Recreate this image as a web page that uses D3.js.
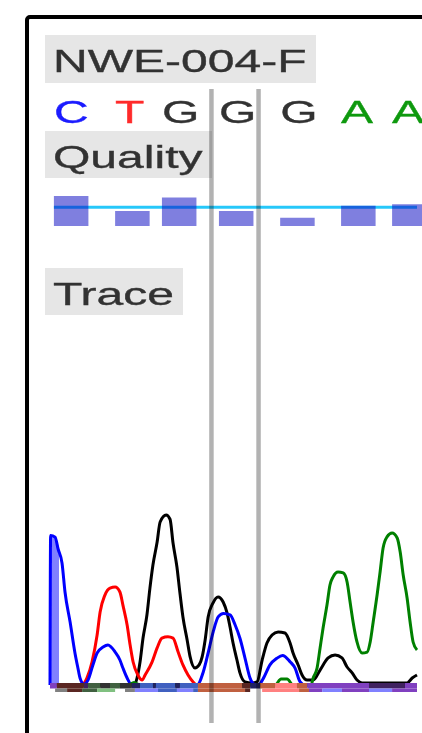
<!DOCTYPE html>
<html>
<head>
<meta charset="utf-8">
<script src="https://cdn.jsdelivr.net/npm/d3@7"></script>
<style>
    body { margin: 0; background: #fff; }
    svg { display: block; }
</style>
</head>
<body>
<svg></svg>
<script>
"use strict"
// campione e basi chiamate
const nomeCampione = "NWE-004-F";
const etichette = ["Quality", "Trace"];
const basi = ["C", "T", "G", "G", "G", "A", "A"];
const inizioBasi = [1.3, 21.7, 37.3, 56.3, 76.7, 97, 114]; // in scansioni
const qualita = [40, 20, 38, 20, 11, 27, 29];
const soglia = 25;
const selezione = [53.8, 69.5]; // base selezionata (scansioni)
const inizioTraccia = [0, 3]; // tratto iniziale della traccia C, prima del primo picco chiamato

// tracce: [scansione, intensità]
const tracciaG = [[0, 0], [28, 0], [29, 41], [30, 135], [31, 276], [32.3, 412], [33.3, 570], [34.3, 706], [35.7, 841], [36.7, 959], [38.7, 1000], [40, 975], [41, 835], [42.3, 694], [43.3, 541], [44.3, 400], [45.7, 265], [46.7, 165], [48.3, 100], [49.7, 118], [50.7, 165], [51.7, 265], [52.7, 400], [54.3, 482], [56, 518], [57.7, 488], [59, 424], [60, 341], [61, 247], [62.3, 147], [63.3, 71], [65, 18], [67.3, 12], [69, 18], [70.7, 147], [72.3, 247], [74, 294], [76, 312], [78.3, 306], [80, 247], [81, 188], [82.7, 118], [84, 59], [85.7, 29], [87.7, 29], [90, 88], [92.7, 159], [95, 176], [97.3, 159], [99, 106], [100.7, 71], [102.3, 29], [104, 12], [119, 12], [120.7, 41], [122.3, 59]];
const tracciaT = [[0, 0], [10.5, 0], [12.3, 41], [14, 135], [15.7, 294], [16.7, 429], [18.3, 529], [20, 570], [21.7, 576], [23.3, 547], [24.3, 470], [25.7, 353], [26.7, 235], [27.7, 135], [29.3, 59], [30.7, 29], [31.7, 59], [34, 135], [35.7, 218], [37.3, 276], [39.3, 284], [41, 276], [42.7, 194], [44.3, 118], [46, 59], [47.7, 18], [49, 0], [122.3, 0]];
const tracciaC = [[0, 0], [0.2, 880], [1.7, 870], [2.7, 800], [4, 718], [5, 547], [6.7, 370], [8.3, 190], [9.3, 100], [10, 41], [11.3, 5], [12.7, 30], [14.3, 118], [15.7, 188], [17.7, 223], [19.3, 235], [21.7, 194], [23.3, 147], [24.3, 100], [25.7, 41], [27, 5], [30, 0], [49, 0], [51.1, 78], [52.8, 196], [54.4, 314], [56.1, 402], [57.8, 421], [60, 412], [61.7, 353], [63.3, 275], [65, 157], [66.7, 39], [68, 5], [69.5, 0], [71.1, 39], [73.3, 118], [75.6, 157], [77.5, 174], [80, 137], [81.7, 98], [83.3, 20], [85, 0], [122.3, 0]];
const tracciaA = [[0, 0], [26, 0], [28, 15], [30, 0], [75, 0], [77, 35], [79, 35], [81, 0], [87, 0], [87.7, 41], [89, 100], [90, 218], [91, 335], [92.3, 470], [93.3, 588], [94.3, 635], [96, 665], [97.7, 659], [99, 606], [100, 488], [101, 371], [102.3, 253], [104, 188], [105.7, 194], [106.7, 253], [107.7, 371], [109, 529], [110, 665], [111, 806], [112.3, 871], [114, 894], [115.7, 865], [116.7, 782], [117.7, 647], [119, 512], [120, 371], [121, 253], [122.3, 206]];

// fascia di base: canali sovrapposti [inizio, fine, canali]
const fasciaSuperiore = [[0, 2.3, "CT"], [2.3, 11.3, "AGT"], [11.3, 12.7, "CTG"], [12.7, 16.7, "AG"], [16.7, 20, "G"], [20, 23.3, "AG"], [23.3, 27.3, "G"], [27.3, 30, "CG"], [30, 34.3, "C"], [34.3, 35.3, "CG"], [35.3, 41.7, "C"], [41.7, 43.3, "CG"], [43.3, 49.3, "C"], [49.3, 64, "TG"], [64, 66.7, "AGT"], [66.7, 70, "CG"], [70, 75, "TG"], [75, 82.3, "T"], [82.3, 85.7, "TG"], [85.7, 106.3, "CT"], [106.3, 118.3, "CTG"], [118.3, 122.3, "CT"]];
const fasciaInferiore = [[1.7, 5.7, "G"], [5.7, 10.7, "AGT"], [10.7, 15.7, "AG"], [15.7, 21.7, "A"], [25, 28.3, "G"], [28.3, 36, "C"], [36, 42.3, "CG"], [42.3, 47.7, "C"], [47.7, 49.3, "CG"], [49.3, 65, "TG"], [65, 66.7, "AGT"], [70.7, 83, "T"], [83, 86.3, "TG"], [86.3, 90.7, "CT"], [90.7, 97.3, "C"], [97.3, 106.3, "CT"], [106.3, 114, "C"], [114, 122.3, "CT"]];

const coloriCanali = { A: "#008000", C: "#0000ff", G: "#000000", T: "#ff0000" };
const coloriLettere = { A: "#119911", C: "#1a1aff", G: "#333333", T: "#ff2a2a" };
const tinteSuperiori = { C: "#4060c0", CG: "#202060", CT: "#8040c0", CTG: "#402060", TG: "#c06040", T: "#ff8080", G: "#303030", AG: "#406040", AGT: "#5a2820" };
const tinteInferiori = { G: "#808080", AGT: "#5a2820", AG: "#406040", A: "#80c080", C: "#8080ff", CG: "#4060c0", TG: "#c06040", T: "#ff8080", CT: "#8040c0" };

const grafico = { w: 422, h: 733 };
const font = "'Liberation Sans', Arial, Helvetica, sans-serif";
const allungamento = 1.55; // testo stirato in orizzontale

const radice = d3.select("svg")
    .attr("width", grafico.w)
    .attr("height", grafico.h);

// leggera sfocatura, come nell'immagine ingrandita
radice.append("defs")
    .append("filter")
    .attr("id", "sfoca")
    .attr("x", "-5%").attr("y", "-5%")
    .attr("width", "110%").attr("height", "110%")
    .append("feGaussianBlur")
    .attr("stdDeviation", 0.55);

const svg = radice.append("g").attr("filter", "url(#sfoca)");

const scalaX = d3.scaleLinear()
    .domain([0, 122.3])
    .range([50, 417]);
const scalaQ = d3.scaleLinear()
    .domain([0, 40])
    .range([226, 196]);
const scalaY = d3.scaleLinear()
    .domain([0, 1000])
    .range([685, 515]);

// cornice
svg.append("rect")
    .attr("x", 27)
    .attr("y", 17)
    .attr("width", 460)
    .attr("height", 780)
    .attr("rx", 3)
    .attr("fill", "#fff")
    .attr("stroke", "#000")
    .attr("stroke-width", 4);

function etichetta(testo, y, alto) {
    const g = svg.append("g");
    const sfondo = g.append("rect")
        .attr("x", 45)
        .attr("y", y)
        .attr("height", alto)
        .attr("fill", "#e6e6e6");
    const t = g.append("text")
        .attr("transform", `translate(53,${y + 37}) scale(${allungamento},1)`)
        .attr("font-family", font)
        .attr("font-size", "31px")
        .attr("fill", "#333")
        .attr("stroke", "#333")
        .attr("stroke-width", 0.35)
        .text(testo);
    sfondo.attr("width", Math.round(t.node().getComputedTextLength() * allungamento + 17));
}
etichetta(nomeCampione, 35, 48);
etichetta(etichette[0], 131, 47);
etichetta(etichette[1], 268, 47);

// lettere delle basi
svg.selectAll(".base")
    .data(basi)
    .enter()
    .append("text")
    .attr("class", "base")
    .attr("transform", function (d, i) { return `translate(${scalaX(inizioBasi[i])},123) scale(${allungamento},1)` })
    .attr("font-family", font)
    .attr("font-size", "31px")
    .attr("fill", function (d) { return coloriLettere[d] })
    .attr("stroke", function (d) { return coloriLettere[d] })
    .attr("stroke-width", 0.35)
    .text(function (d) { return d });

// qualità: soglia sotto, barre semitrasparenti sopra
svg.append("line")
    .attr("x1", scalaX(inizioBasi[0]))
    .attr("x2", scalaX(122.3))
    .attr("y1", scalaQ(soglia))
    .attr("y2", scalaQ(soglia))
    .attr("stroke", "#28c8fa")
    .attr("stroke-width", 3);

svg.selectAll(".qualita")
    .data(qualita)
    .enter()
    .append("rect")
    .attr("class", "qualita")
    .attr("x", function (d, i) { return scalaX(inizioBasi[i]) })
    .attr("y", function (d) { return scalaQ(d) })
    .attr("width", scalaX(11.5) - scalaX(0))
    .attr("height", function (d) { return scalaQ(0) - scalaQ(d) })
    .attr("fill", "#0000c0")
    .attr("fill-opacity", 0.5);

// tracce
const linea = d3.line()
    .x(function (d) { return scalaX(d[0]) })
    .y(function (d) { return scalaY(d[1]) })
    .curve(d3.curveMonotoneX);

const area = d3.area()
    .x(function (d) { return scalaX(d[0]) })
    .y0(scalaY(0))
    .y1(function (d) { return scalaY(d[1]) })
    .curve(d3.curveMonotoneX);

svg.append("path")
    .attr("d", area(tracciaC.filter(function (d) { return d[0] >= inizioTraccia[0] && d[0] <= inizioTraccia[1] })
        .concat([[inizioTraccia[1], 830]])))
    .attr("fill", "#8080ff");

const tracce = [["G", tracciaG], ["T", tracciaT], ["C", tracciaC], ["A", tracciaA]];
svg.selectAll(".traccia")
    .data(tracce)
    .enter()
    .append("path")
    .attr("class", "traccia")
    .attr("d", function (d) { return linea(d[1]) })
    .attr("fill", "none")
    .attr("stroke", function (d) { return coloriCanali[d[0]] })
    .attr("stroke-width", 3)
    .attr("stroke-linejoin", "round");

// fascia alla base delle tracce
svg.selectAll(".fasciaSup")
    .data(fasciaSuperiore)
    .enter()
    .append("rect")
    .attr("class", "fasciaSup")
    .attr("x", function (d) { return scalaX(d[0]) })
    .attr("width", function (d) { return scalaX(d[1]) - scalaX(d[0]) })
    .attr("y", scalaY(0) - 2)
    .attr("height", 5.5)
    .attr("fill", function (d) { return tinteSuperiori[d[2]] });

svg.selectAll(".fasciaInf")
    .data(fasciaInferiore)
    .enter()
    .append("rect")
    .attr("class", "fasciaInf")
    .attr("x", function (d) { return scalaX(d[0]) })
    .attr("width", function (d) { return scalaX(d[1]) - scalaX(d[0]) })
    .attr("y", scalaY(0) + 3.5)
    .attr("height", 3.5)
    .attr("fill", function (d) { return tinteInferiori[d[2]] });

// limiti della base selezionata
svg.selectAll(".selezione")
    .data(selezione)
    .enter()
    .append("line")
    .attr("class", "selezione")
    .attr("x1", function (d) { return scalaX(d) })
    .attr("x2", function (d) { return scalaX(d) })
    .attr("y1", 89)
    .attr("y2", 723)
    .attr("stroke", "#000")
    .attr("stroke-opacity", 0.3)
    .attr("stroke-width", 4.5);
</script>
</body>
</html>
